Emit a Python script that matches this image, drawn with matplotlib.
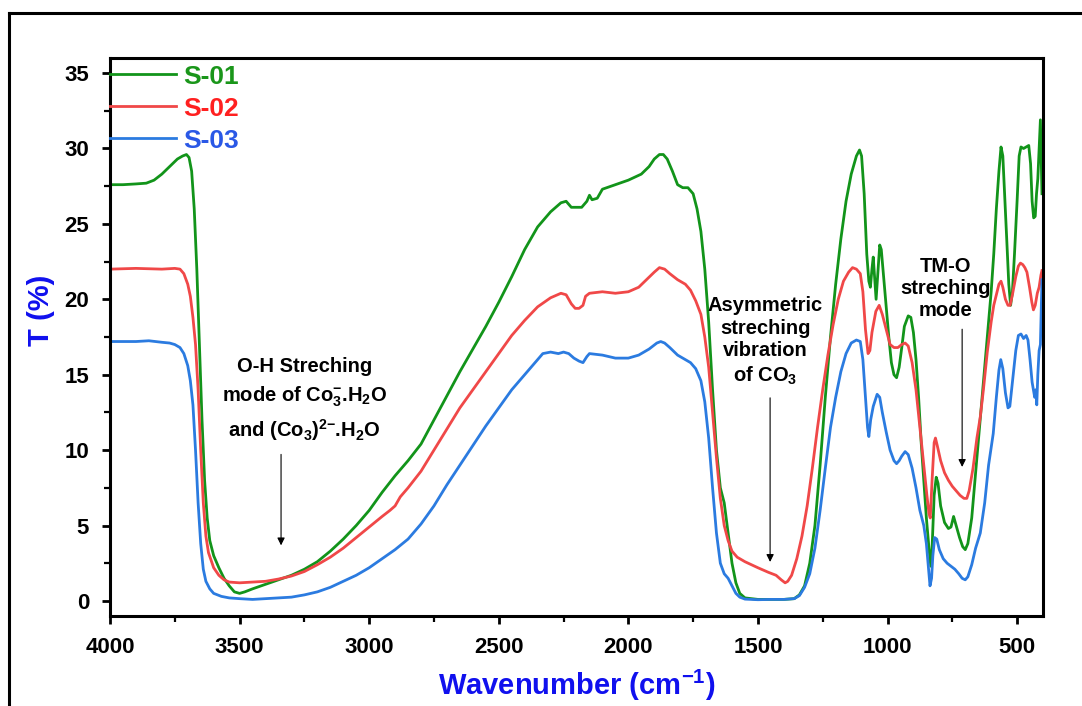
#!/usr/bin/env python3
import numpy as np
import matplotlib
matplotlib.use("Agg")
import matplotlib.pyplot as plt
from matplotlib.lines import Line2D

plt.rcParams['font.family'] = ['Liberation Sans', 'DejaVu Sans']
plt.rcParams['font.weight'] = 'bold'
plt.rcParams['mathtext.default'] = 'regular'

#================== data ================#
wn_s01 = [4000, 3950, 3900, 3860, 3830, 3800, 3770, 3740, 3720, 3705, 3695, 3685, 3675, 3665, 3655,
          3645, 3635, 3625, 3615, 3600, 3580, 3560, 3540, 3520, 3500, 3480, 3450, 3400, 3350, 3300,
          3250, 3200, 3150, 3100, 3050, 3000, 2950, 2900, 2850, 2800, 2750, 2700, 2650, 2600, 2550,
          2500, 2450, 2400, 2350, 2300, 2260, 2240, 2220, 2200, 2180, 2160, 2150, 2140, 2120, 2100,
          2050, 2000, 1950, 1920, 1900, 1880, 1865, 1850, 1830, 1810, 1790, 1770, 1750, 1735, 1720,
          1705, 1690, 1675, 1660, 1645, 1630, 1615, 1600, 1585, 1570, 1550, 1500, 1450, 1400, 1360,
          1340, 1320, 1300, 1280, 1260, 1240, 1220, 1200, 1180, 1160, 1140, 1120, 1108, 1100, 1090,
          1080, 1072, 1066, 1060, 1055, 1050, 1044, 1038, 1030, 1024, 1015, 1005, 995, 985, 975,
          965, 955, 945, 935, 920, 910, 900, 890, 880, 870, 860, 850, 840, 833, 828,
          820, 812, 805, 795, 780, 765, 755, 745, 735, 722, 710, 700, 690, 675, 660,
          645, 630, 615, 600, 590, 580, 570, 562, 555, 548, 540, 532, 525, 518, 510,
          500, 492, 485, 475, 465, 455, 448, 442, 436, 430, 425, 420, 415, 410, 406, 404]
t_s01 = [27.6, 27.6, 27.65, 27.7, 27.9, 28.3, 28.8, 29.3, 29.5, 29.6, 29.4, 28.5, 26, 22, 17,
         12, 8, 5.5, 4, 3, 2.2, 1.5, 1.0, 0.6, 0.5, 0.6, 0.8, 1.1, 1.4, 1.7,
         2.1, 2.6, 3.3, 4.1, 5.0, 6.0, 7.2, 8.3, 9.3, 10.4, 12.0, 13.6, 15.2, 16.7, 18.2,
         19.8, 21.5, 23.3, 24.8, 25.8, 26.4, 26.5, 26.1, 26.1, 26.1, 26.5, 26.9, 26.6, 26.7, 27.3,
         27.6, 27.9, 28.3, 28.8, 29.3, 29.6, 29.6, 29.3, 28.5, 27.6, 27.4, 27.4, 27.0, 26.0, 24.5,
         22, 18.5, 14, 10, 7.5, 6.5, 4.5, 2.5, 1.2, 0.5, 0.2, 0.1, 0.1, 0.1, 0.15,
         0.4, 1.0, 2.5, 5, 9, 13.5, 17.5, 21, 24, 26.5, 28.3, 29.5, 29.9, 29.5, 27,
         23, 21.2, 20.8, 22, 22.8, 21.5, 20.0, 21.5, 23.6, 23.3, 21.5, 19.5, 17.5, 15.8, 15.0,
         14.8, 15.5, 16.8, 18.2, 18.9, 18.8, 17.8, 16, 13.5, 10.5, 8, 5.5, 3.5, 2.3, 3.5,
         7, 8.2, 7.8, 6.3, 5.2, 4.8, 4.9, 5.6, 5.0, 4.2, 3.6, 3.4, 3.8, 5.5, 8.5,
         11.5, 14.5, 17.5, 20.5, 23, 26, 28.5, 30.1, 29.5, 27, 24, 21, 19.6, 20.5, 23,
         26.5, 29.5, 30.1, 30.0, 30.1, 30.2, 29, 26.5, 25.4, 25.5, 27, 28, 30, 31.9, 28.5, 27]

wn_s02 = [4000, 3900, 3800, 3750, 3730, 3715, 3700, 3690, 3680, 3670, 3660, 3650, 3640, 3630, 3620,
          3600, 3580, 3560, 3540, 3500, 3450, 3400, 3350, 3300, 3250, 3200, 3150, 3100, 3050, 3000,
          2950, 2920, 2900, 2880, 2850, 2800, 2750, 2700, 2650, 2600, 2550, 2500, 2450, 2400, 2350,
          2300, 2260, 2240, 2220, 2205, 2190, 2175, 2165, 2150, 2100, 2050, 2000, 1960, 1930, 1900,
          1880, 1860, 1840, 1810, 1780, 1760, 1740, 1720, 1705, 1690, 1675, 1660, 1645, 1630, 1615,
          1600, 1580, 1550, 1500, 1460, 1430, 1410, 1395, 1385, 1370, 1350, 1330, 1310, 1290, 1270,
          1250, 1230, 1210, 1190, 1170, 1150, 1135, 1120, 1105, 1095, 1085, 1075, 1068, 1060, 1045,
          1032, 1020, 1005, 990, 975, 960, 945, 932, 920, 905, 890, 875, 860, 848, 840,
          835, 828, 820, 815, 808, 795, 780, 765, 750, 735, 720, 705, 694, 685, 670,
          655, 642, 630, 615, 600, 590, 580, 570, 562, 555, 545, 535, 527, 518, 505,
          495, 487, 478, 470, 462, 452, 443, 437, 430, 422, 415, 408, 404]
t_s02 = [22.0, 22.05, 22.0, 22.05, 22.0, 21.7, 21.0, 20.2, 18.8, 17, 14, 10, 6.5, 4.3, 3.2,
         2.2, 1.7, 1.4, 1.25, 1.2, 1.25, 1.3, 1.45, 1.65, 1.95, 2.4, 2.9, 3.5, 4.2, 4.9,
         5.6, 6.0, 6.3, 6.9, 7.5, 8.6, 10.0, 11.4, 12.8, 14.0, 15.2, 16.4, 17.6, 18.6, 19.5,
         20.1, 20.4, 20.3, 19.7, 19.4, 19.4, 19.6, 20.2, 20.4, 20.5, 20.4, 20.5, 20.8, 21.3, 21.8,
         22.1, 22.0, 21.7, 21.3, 21.0, 20.6, 19.9, 19.0, 17.5, 15.5, 12.5, 9.5, 6.8, 5.0, 4.0,
         3.3, 2.9, 2.6, 2.2, 1.9, 1.7, 1.4, 1.2, 1.3, 1.7, 2.8, 4.3, 6.3, 8.8, 11.5,
         14.0, 16.3, 18.3, 20.0, 21.2, 21.8, 22.1, 22.0, 21.7, 20.5, 18.0, 16.4, 16.6, 17.8, 19.2,
         19.6, 19.0, 18.0, 17.0, 16.8, 16.8, 17.0, 17.1, 16.9, 15.8, 14, 11.5, 9, 7, 5.8,
         5.5, 8, 10.5, 10.8, 10.3, 9.3, 8.5, 8.0, 7.6, 7.3, 7.0, 6.8, 6.8, 7.3, 8.8,
         10.8, 12.2, 14, 16.5, 18.5, 19.6, 20.3, 21, 21.2, 20.8, 20.0, 19.6, 19.6, 20.3, 21.5,
         22.2, 22.4, 22.3, 22.1, 21.8, 20.8, 19.8, 19.3, 19.6, 20.4, 20.8, 21.6, 21.9]

wn_s03 = [4000, 3900, 3850, 3800, 3770, 3750, 3730, 3715, 3700, 3690, 3680, 3670, 3660, 3650, 3640,
          3630, 3615, 3600, 3570, 3540, 3500, 3450, 3400, 3350, 3300, 3250, 3200, 3150, 3100, 3050,
          3000, 2950, 2900, 2850, 2800, 2750, 2700, 2650, 2600, 2550, 2500, 2450, 2400, 2370, 2350,
          2330, 2300, 2270, 2250, 2230, 2210, 2190, 2175, 2160, 2150, 2100, 2050, 2000, 1960, 1920,
          1890, 1875, 1860, 1840, 1810, 1780, 1760, 1740, 1720, 1705, 1690, 1675, 1660, 1645, 1630,
          1615, 1600, 1585, 1570, 1550, 1500, 1450, 1400, 1360, 1340, 1320, 1300, 1280, 1260, 1240,
          1220, 1200, 1180, 1160, 1140, 1120, 1105, 1095, 1085, 1077, 1072, 1065, 1055, 1040, 1030,
          1020, 1005, 990, 975, 965, 955, 945, 932, 920, 905, 890, 875, 860, 850, 842,
          836, 830, 825, 818, 810, 800, 785, 770, 755, 740, 725, 712, 700, 690, 675,
          660, 642, 625, 610, 592, 580, 570, 563, 555, 545, 535, 528, 518, 505, 495,
          485, 475, 465, 458, 450, 442, 437, 432, 428, 424, 420, 415, 410, 406, 404]
t_s03 = [17.2, 17.2, 17.25, 17.15, 17.1, 17.0, 16.8, 16.4, 15.6, 14.6, 13, 10, 6.5, 3.8, 2.1,
         1.3, 0.8, 0.5, 0.3, 0.2, 0.15, 0.1, 0.15, 0.2, 0.25, 0.4, 0.6, 0.9, 1.3, 1.7,
         2.2, 2.8, 3.4, 4.1, 5.1, 6.3, 7.7, 9.0, 10.3, 11.6, 12.8, 14.0, 15.0, 15.6, 16.0,
         16.4, 16.5, 16.4, 16.5, 16.4, 16.1, 15.9, 15.8, 16.2, 16.4, 16.3, 16.1, 16.1, 16.3, 16.7,
         17.1, 17.2, 17.1, 16.8, 16.3, 16.0, 15.8, 15.4, 14.6, 13.2, 10.8, 7.5, 4.5, 2.5, 1.8,
         1.5, 1.0, 0.5, 0.25, 0.12, 0.08, 0.1, 0.1, 0.15, 0.35, 0.9, 1.8, 3.5, 6.0, 8.8,
         11.5, 13.5, 15.2, 16.4, 17.1, 17.3, 17.2, 16.0, 13.5, 11.5, 10.9, 12.0, 12.9, 13.7, 13.5,
         12.5, 11.2, 10.0, 9.3, 9.1, 9.3, 9.6, 9.9, 9.7, 8.8, 7.5, 6.0, 5.0, 3.8, 2.2,
         1.0, 1.5, 3, 4.2, 4.1, 3.4, 2.8, 2.5, 2.3, 2.1, 1.8, 1.5, 1.4, 1.6, 2.4,
         3.5, 4.5, 6.5, 9.0, 11.1, 13.5, 15.3, 16.0, 15.4, 13.8, 12.8, 12.9, 14.5, 16.6, 17.6,
         17.7, 17.4, 17.6, 17.3, 16.0, 14.5, 14.0, 13.5, 14.0, 13.0, 15.0, 16.6, 17, 20, 21.3]

names = ["S-01", "S-02", "S-03"]
line_colors = ["#12941a", "#f04848", "#2b7be0"]
text_colors = ["#1a961a", "#ff2020", "#2a58e6"]
label_blue = "#1010ee"


def main():
    fig = plt.figure(figsize=(10.82, 7.06), dpi=100)
    ax = fig.add_axes([110 / 1082, 1 - 616 / 706, 933 / 1082, 558 / 706])

    # outer frame (cut off on right/bottom like the reference)
    fig.add_artist(Line2D([9 / 1082, 1.0], [1 - 13 / 706] * 2, transform=fig.transFigure,
                          color="black", lw=2.2))
    fig.add_artist(Line2D([9 / 1082] * 2, [0.0, 1 - 13 / 706], transform=fig.transFigure,
                          color="black", lw=2.2))

    series = [(wn_s01, t_s01), (wn_s02, t_s02), (wn_s03, t_s03)]
    for (wn, t), nm, c in zip(series, names, line_colors):
        ax.plot(wn, t, color=c, lw=2.0, label=nm)

    ax.set_xlim(4000, 400)
    ax.set_ylim(-1, 36)
    ax.set_xticks(np.arange(4000, 499, -500))
    ax.set_xticks(np.arange(3750, 400, -500), minor=True)
    ax.set_yticks(np.arange(0, 36, 5))
    ax.set_yticks(np.arange(2.5, 36, 5), minor=True)

    for sp in ax.spines.values():
        sp.set_linewidth(2.2)
    ax.tick_params(which="major", direction="out", length=6, width=2, labelsize=16, pad=9)
    ax.tick_params(which="minor", direction="out", length=4, width=1.6)
    for lab in ax.get_xticklabels() + ax.get_yticklabels():
        lab.set_fontweight("bold")

    ax.set_xlabel("Wavenumber (cm$^{-1}$)", fontsize=21, fontweight="bold", color=label_blue)
    ax.set_ylabel("T (%)", fontsize=21, fontweight="bold", color=label_blue)
    ax.xaxis.set_label_coords(0.5, -0.093)
    ax.yaxis.set_label_coords(-0.059, 0.548)

    #============ annotations ===============#
    arw = dict(arrowstyle="-|>", color="black", lw=0.8, mutation_scale=11)
    ax.text(3250, 13.3, "O-H Streching\nmode of Co$_3^{-}$.H$_2$O\nand (Co$_3$)$^{2{-}}$.H$_2$O",
            ha="center", va="center", fontsize=14.5, fontweight="bold", linespacing=1.45)
    ax.annotate("", xy=(3340, 3.5), xytext=(3340, 9.9), arrowprops=arw)

    ax.text(1472, 17.2, "Asymmetric\nstreching\nvibration\nof CO$_3$",
            ha="center", va="center", fontsize=14.5, fontweight="bold", linespacing=1.25)
    ax.annotate("", xy=(1453, 2.4), xytext=(1453, 13.65), arrowprops=arw)

    ax.text(777, 20.7, "TM-O\nstreching\nmode",
            ha="center", va="center", fontsize=14.5, fontweight="bold", linespacing=1.2)
    ax.annotate("", xy=(712, 8.7), xytext=(712, 18.2), arrowprops=arw)

    #=============== legend ==================#
    leg = ax.legend(loc="upper left", bbox_to_anchor=(0.0, 0.988), frameon=False,
                    fontsize=19, handlelength=2.5, handletextpad=0.27, labelspacing=0.3,
                    borderpad=0, borderaxespad=0)
    for txt, c in zip(leg.get_texts(), text_colors):
        txt.set_color(c)
        txt.set_fontweight("bold")

    plt.savefig("out.png", dpi=100)


if __name__ == "__main__":
    main()
